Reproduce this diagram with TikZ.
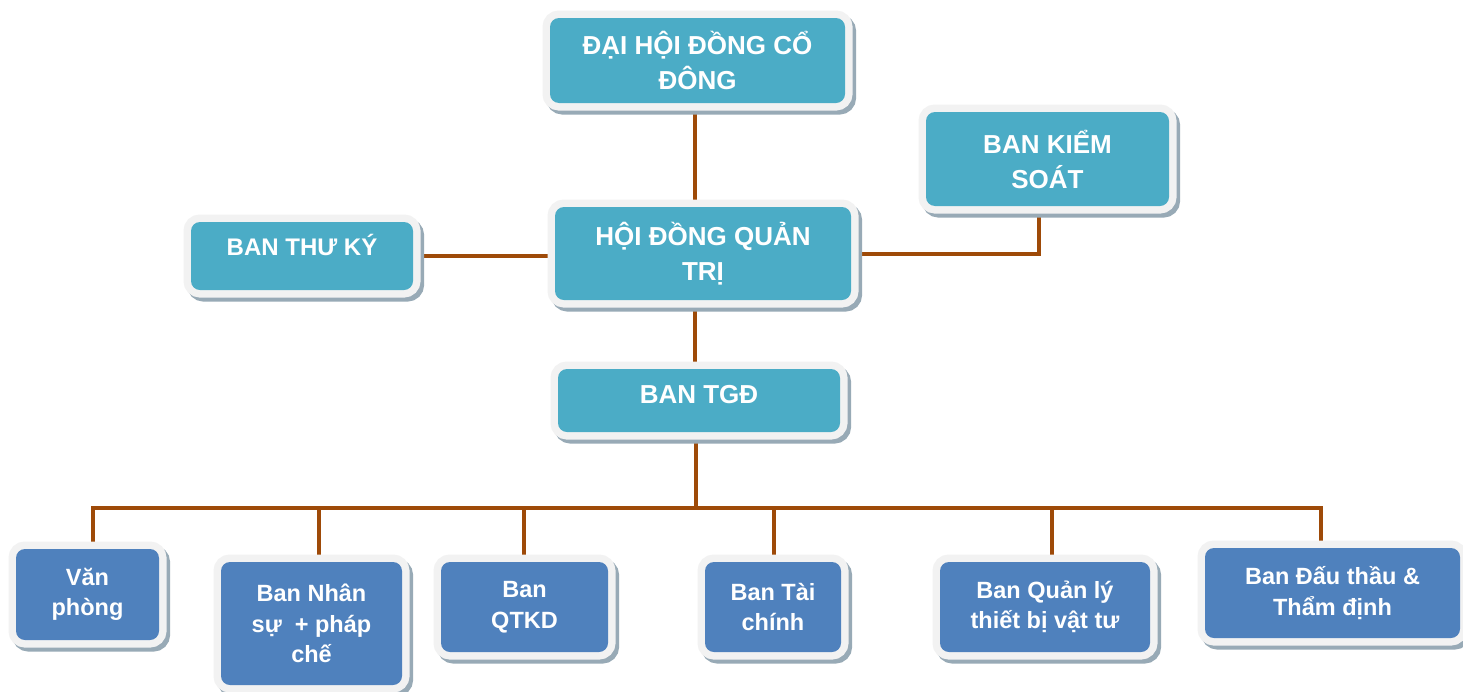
\documentclass[tikz,border=0pt]{standalone}
\usepackage{fontspec}
\setmainfont{Liberation Sans}
\pgfdeclarelayer{background}
\pgfdeclarelayer{canvas}
\pgfsetlayers{canvas,background,main}
\definecolor{teal1}{RGB}{75,172,198}
\definecolor{blue1}{RGB}{79,129,189}
\definecolor{framec}{RGB}{242,242,242}
\definecolor{shadowc}{RGB}{152,170,182}
\definecolor{connc}{RGB}{158,74,8}
\tikzset{
  box/.style={rounded corners=9pt, inner sep=0pt, text=white, align=center,
    preaction={draw=shadowc, line width=15pt, transform canvas={shift={(3.5pt,-4pt)}}},
    preaction={draw=framec, line width=15pt}},
  topbox/.style={box, fill=teal1, font=\fontsize{26}{35}\selectfont\bfseries},
  botbox/.style={box, fill=blue1, font=\fontsize{23.5}{30.5}\selectfont\bfseries},
  conn/.style={draw=connc, line width=4pt, line join=miter}
}
\begin{document}
\begin{tikzpicture}[x=1pt,y=-1pt]
\begin{pgfonlayer}{canvas}
\fill[white] (0,0) rectangle (1463,691);
\end{pgfonlayer}
\useasboundingbox (0,0) rectangle (1463,691);
% top level
\node[topbox, minimum width=295pt, minimum height=85pt] (dhdcd) at (697.5,60.5) {ĐẠI HỘI ĐỒNG CỔ\\ĐÔNG};
\node[topbox, minimum width=296pt, minimum height=93pt] (hdqt) at (703,253.5) {HỘI ĐỒNG QUẢN\\TRỊ};
\node[topbox, minimum width=282pt, minimum height=63pt, text height=5pt, text depth=0pt] (tgd) at (699,400.5) {BAN TGĐ};
\node[topbox, font=\fontsize{24}{30}\selectfont\bfseries, minimum width=222pt, minimum height=68pt, text height=0pt, text depth=2pt] (thuky) at (302,256) {BAN THƯ KÝ};
\node[topbox, minimum width=243pt, minimum height=94pt] (kiemsoat) at (1047.5,159) {BAN KIỂM\\SOÁT};
% departments
\node[botbox, minimum width=143pt, minimum height=91pt] (vanphong) at (87.5,594.5) {Văn\\phòng};
\node[botbox, minimum width=181pt, minimum height=123pt] (nhansu) at (311.5,623.5) {Ban Nhân\\sự~ + pháp\\chế};
\node[botbox, minimum width=167pt, minimum height=90pt] (qtkd) at (524.5,607) {Ban\\QTKD};
\node[botbox, minimum width=136pt, minimum height=90pt] (taichinh) at (773,607) {Ban Tài\\chính};
\node[botbox, minimum width=210pt, minimum height=90pt] (quanly) at (1045,607) {Ban Quản lý\\thiết bị vật tư};
\node[botbox, minimum width=255pt, minimum height=90pt] (dauthau) at (1332.5,593) {Ban Đấu thầu \&\\Thẩm định};
\coordinate (busy) at (0,508);
\begin{pgfonlayer}{background}
\draw[conn] ([xshift=-2.5pt]dhdcd.south) -- ([xshift=-2.5pt]dhdcd.south |- hdqt.north);
\draw[conn] ([xshift=-8pt]hdqt.south) -- ([xshift=-8pt]hdqt.south |- tgd.north);
\draw[conn] (thuky.east) -- (thuky.east -| hdqt.west);
\draw[conn] (hdqt.east) -| ([xshift=-8.5pt]kiemsoat.south);
\draw[conn] ([xshift=-3pt]tgd.south) -- ([xshift=-3pt]tgd.south |- busy);
\draw[conn] ([xshift=5.5pt]vanphong.north) -- ([xshift=5.5pt]vanphong.north |- busy) -- ([xshift=-11.5pt]dauthau.north |- busy) -- ([xshift=-11.5pt]dauthau.north);
\draw[conn] ([xshift=7.5pt]nhansu.north) -- ([xshift=7.5pt]nhansu.north |- busy);
\draw[conn] ([xshift=-0.5pt]qtkd.north) -- ([xshift=-0.5pt]qtkd.north |- busy);
\draw[conn] ([xshift=1pt]taichinh.north) -- ([xshift=1pt]taichinh.north |- busy);
\draw[conn] ([xshift=7pt]quanly.north) -- ([xshift=7pt]quanly.north |- busy);
\end{pgfonlayer}
\end{tikzpicture}
\end{document}
